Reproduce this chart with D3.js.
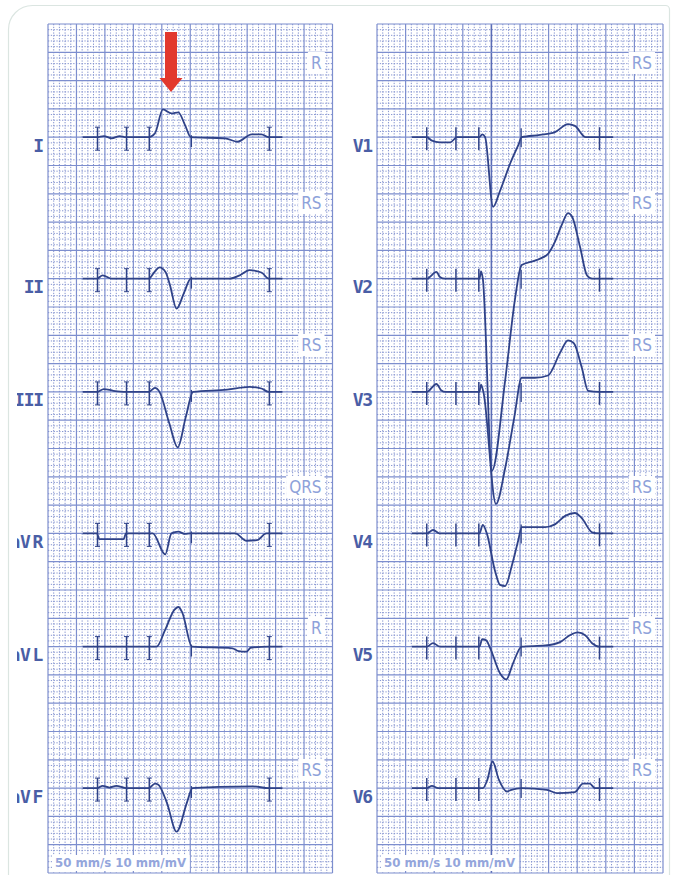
<!DOCTYPE html>
<html>
<head>
<meta charset="utf-8">
<script src="https://cdn.jsdelivr.net/npm/d3@7/dist/d3.min.js"></script>
<style>
html, body { margin: 0; padding: 0; background: #fff; }
svg { display: block; }
</style>
</head>
<body>
<div id="chart"></div>
<script>
// Lead names and the axis notes printed in each strip
var limbLeads = ["I", "II", "III", "aVR", "aVL", "aVF"]
var chestLeads = ["V1", "V2", "V3", "V4", "V5", "V6"]
var limbNotes = ["R", "RS", "RS", "QRS", "R", "RS"]
var chestNotes = ["RS", "RS", "RS", "RS", "RS", "RS"]
var speedLabel = "50 mm/s 10 mm/mV"

// Marker positions along the strip (mm)
var tickTimes = [8.7, 13.8, 17.8, 38.9]
var markerTime = 25.2

// Traces: [time mm, amplitude mm]
var leadI = [[6.1,0],[8.6,0],[9.8,0.2],[11.2,-0.2],[12.6,0.2],[13.7,0],[17.7,0],[18.8,0.7],[20.2,4.9],[21.7,4.2],[22.9,4.4],[24.1,2.1],[25.1,0],[31.1,-0.2],[33.3,-0.8],[35.8,0.5],[37.5,0.5],[38.8,0],[41.2,0]]
var leadII = [[6.1,0],[8.6,0],[9.6,0.6],[11.2,0],[13.7,0],[17.7,0],[18.8,1.3],[19.6,2.0],[20.7,1.1],[21.4,-1.0],[22.6,-5.3],[23.9,-2.5],[25.1,0],[31.9,0],[33.7,0.6],[35.4,1.5],[37.5,1.1],[38.8,0],[41.2,0]]
var leadIII = [[6.1,0],[8.6,0],[9.8,0.5],[11.5,0.2],[13.7,0],[17.7,0],[18.8,0.7],[19.6,0],[21.3,-5.5],[22.8,-9.8],[24.2,-4.5],[25.5,0],[31.5,0.4],[35.4,0.9],[37.5,0.6],[38.8,0],[41.2,0]]
var leadAVR = [[6.1,0],[8.6,0],[9.0,-1.0],[13.3,-1.0],[13.7,0],[17.7,0],[18.4,0],[20.6,-3.7],[21.7,0],[22.9,0.3],[24.1,-0.1],[25.0,0],[32.9,0],[34.9,-1.3],[36.7,-1.2],[38.4,0],[41.2,0]]
var leadAVL = [[6.1,0],[8.6,0],[13.7,0],[17.7,0],[19.1,0],[20.6,3.0],[22.2,6.5],[22.9,7.0],[23.6,6.0],[25.3,0],[32.4,-0.3],[33.5,-0.8],[34.9,-0.9],[35.6,-0.2],[38.8,0],[41.2,0]]
var leadAVF = [[6.1,0],[8.6,0],[9.6,0.4],[10.8,0.1],[12.0,0.4],[13.7,0],[17.7,0],[18.8,0.8],[19.4,0.6],[20.9,-2.6],[22.6,-7.7],[24.4,-2.6],[25.4,0],[30.0,0.2],[36.0,0.3],[38.8,0],[41.2,0]]

var leadV1 = [[6.1,0],[8.7,0],[9.6,-0.6],[11.0,-0.9],[12.8,-0.9],[14.0,0],[17.9,0],[18.4,0.5],[18.9,0],[20.3,-12.3],[21.5,-9.5],[23.3,-4.6],[24.7,-1.4],[25.3,0],[28.5,0.4],[31.1,0.9],[33.4,2.3],[34.6,2.0],[36.5,0],[38.9,0],[41.3,0]]
var leadV2 = [[6.1,0],[8.7,0],[10.4,1.2],[11.0,0.3],[11.9,0],[14.0,0],[17.9,0],[18.2,1.3],[18.5,0],[20.1,-33.9],[22.4,-18],[24.1,-3.8],[25.1,2.0],[25.3,2.4],[27.6,3.2],[29.9,4.4],[31.1,6.5],[32.3,9.5],[33.4,11.6],[34.1,11.0],[35.5,5.6],[36.7,0.6],[37.6,0],[38.9,0],[41.3,0]]
var leadV3 = [[6.1,0],[8.7,0],[10.4,1.4],[11.2,0.3],[12.0,0],[14.0,0],[17.9,0],[18.2,1.3],[18.6,0],[20.8,-19.8],[22.4,-13.5],[24.0,-4.5],[25.3,2.5],[27.6,2.5],[29.9,2.9],[32.0,6.9],[33.4,9.1],[34.4,8.6],[35.8,4.3],[36.9,0.2],[38.9,0],[41.3,0]]
var leadV4 = [[6.1,0],[8.7,0],[9.8,0.6],[11.0,0],[14.0,0],[17.9,0],[18.5,1.5],[19.2,0],[20.6,-6.5],[21.5,-9.1],[22.4,-9.3],[23.6,-5.6],[24.7,-1.2],[25.3,1.1],[29.4,1.1],[31.1,1.6],[32.9,3.1],[34.6,3.6],[35.8,2.7],[37.6,0.2],[38.9,0],[41.3,0]]
var leadV5 = [[6.1,0],[8.7,0],[9.8,0.6],[11.0,0],[14.0,0],[17.9,0],[18.4,1.3],[19.1,1.1],[19.8,-0.3],[21.5,-4.7],[22.6,-5.8],[23.8,-2.9],[25.3,0],[29.4,0.2],[32.0,0.8],[33.7,2.0],[35.1,2.5],[36.4,2.0],[37.6,0.6],[38.9,0],[41.3,0]]
var leadV6 = [[6.1,0],[8.7,0],[9.6,0.4],[10.7,0],[14.0,0],[17.9,0],[18.5,0],[19.3,1.5],[20.2,4.7],[21.3,1.5],[22.7,-0.6],[23.5,-0.3],[25.3,0],[29.7,-0.3],[31.5,-0.9],[34.6,-0.7],[36.0,0.8],[37.2,0.8],[38.1,0],[38.9,0],[41.3,0]]

var limbTraces = [leadI, leadII, leadIII, leadAVR, leadAVL, leadAVF]
var chestTraces = [leadV1, leadV2, leadV3, leadV4, leadV5, leadV6]

// layout
var W = 673, H = 875
var gridTop = 24, rowH = 28.3, nRows = 30
var gridBottom = gridTop + nRows * rowH
var baseRows = [4, 9, 13, 18, 22, 27]
var noteY = [63, 203, 345, 487, 628, 770]
var traceColor = '#2f4288'

var svg = d3.select('#chart').append('svg')
    .attr('width', W).attr('height', H)

// card outline
svg.append('path')
    .attr('d', 'M8.5,' + H + ' V29.5 A24,24 0 0 1 32.5,5.5 H665.5 A4,4 0 0 1 669.5,9.5 V' + H)
    .attr('fill', '#fff')
    .attr('stroke', '#dbe5e1')
    .attr('stroke-width', 1.2)

svg.append('clipPath').attr('id', 'crop')
    .append('rect').attr('x', 17).attr('y', 0).attr('width', W).attr('height', H)

var root = svg.append('g').attr('clip-path', 'url(#crop)')

// vertical position in mm from top of grid
var yMM = d3.scaleLinear().domain([0, nRows * 5]).range([gridTop, gridBottom])

function addBoxedText(g, t) {
    var b = t.node().getBBox()
    g.insert('rect', function () { return t.node() })
        .attr('x', b.x - 3).attr('y', b.y - 1)
        .attr('width', b.width + 6).attr('height', b.height + 2)
        .attr('fill', '#fff')
}

function drawPanel(x0, x1, leads, notes, traces, serifs, emphCol) {
    var g = root.append('g')
    var x = d3.scaleLinear().domain([0, 50]).range([x0, x1])

    var minorX = d3.range(1, 50).filter(d => d % 5 !== 0)
    var minorY = d3.range(1, nRows * 5).filter(d => d % 5 !== 0)
    var majorX = d3.range(0, 51, 5)
    var majorY = d3.range(0, nRows * 5 + 1, 5)

    g.selectAll('.mnx').data(minorX).enter().append('line')
        .attr('x1', d => x(d)).attr('x2', d => x(d))
        .attr('y1', gridTop).attr('y2', gridBottom)
        .attr('stroke', '#8594d0').attr('stroke-width', 1)
        .attr('stroke-dasharray', '1.3,1.5')
    g.selectAll('.mny').data(minorY).enter().append('line')
        .attr('y1', d => yMM(d)).attr('y2', d => yMM(d))
        .attr('x1', x0).attr('x2', x1)
        .attr('stroke', '#8594d0').attr('stroke-width', 1)
        .attr('stroke-dasharray', '1.3,1.5')

    g.selectAll('.mjx').data(majorX).enter().append('line')
        .attr('x1', d => x(d)).attr('x2', d => x(d))
        .attr('y1', gridTop).attr('y2', gridBottom)
        .attr('stroke', d => d === emphCol * 5 ? '#5a6cb6' : '#7d8ece')
        .attr('stroke-width', d => d === emphCol * 5 ? 1.6 : 1.2)
    g.selectAll('.mjy').data(majorY).enter().append('line')
        .attr('y1', d => yMM(d)).attr('y2', d => yMM(d))
        .attr('x1', x0).attr('x2', x1)
        .attr('stroke', '#7d8ece').attr('stroke-width', 1.2)

    // axis notes with white box behind
    notes.forEach((n, i) => {
        var t = g.append('text')
            .attr('x', x1 - 11).attr('y', noteY[i])
            .attr('text-anchor', 'end')
            .attr('dominant-baseline', 'central')
            .style('font-family', 'DejaVu Sans Condensed, DejaVu Sans, sans-serif')
            .style('font-size', '17px')
            .style('fill', '#8ea2da')
            .text(n)
        addBoxedText(g, t)
    })

    // speed / gain note at the bottom
    var s = g.append('text')
        .attr('x', x0 + 7).attr('y', gridBottom - 10)
        .attr('dominant-baseline', 'central')
        .attr('textLength', 131).attr('lengthAdjust', 'spacingAndGlyphs')
        .style('font-family', 'DejaVu Sans Condensed, DejaVu Sans, sans-serif')
        .style('font-size', '12px').style('font-weight', 'bold')
        .style('fill', '#94a6dc')
        .text(speedLabel)
    addBoxedText(g, s)

    var line = d3.line().curve(d3.curveMonotoneX)

    traces.forEach((tr, i) => {
        var base = yMM(baseRows[i] * 5)
        var y = d3.scaleLinear().domain([0, 1]).range([base, base - rowH / 5])
        line.x(d => x(d[0])).y(d => y(d[1]))

        var lg = g.append('g')
        lg.append('path')
            .attr('d', line(tr))
            .attr('fill', 'none')
            .attr('stroke', traceColor)
            .attr('stroke-width', 1.8)
            .attr('stroke-linejoin', 'round')

        lg.selectAll('.tk').data(tickTimes).enter().append('line')
            .attr('x1', d => x(d)).attr('x2', d => x(d))
            .attr('y1', base - 10).attr('y2', base + 13)
            .attr('stroke', traceColor).attr('stroke-width', 1.5)
        if (serifs) {
            lg.selectAll('.sf').data(tickTimes.flatMap(d => [[d, -10], [d, 13]])).enter().append('line')
                .attr('x1', d => x(d[0]) - 2.5).attr('x2', d => x(d[0]) + 2.5)
                .attr('y1', d => base + d[1]).attr('y2', d => base + d[1])
                .attr('stroke', traceColor).attr('stroke-width', 1)
        }
        lg.append('line')
            .attr('x1', x(markerTime)).attr('x2', x(markerTime))
            .attr('y1', serifs ? base - 2 : base - 9).attr('y2', base + 10)
            .attr('stroke', traceColor).attr('stroke-width', 1.3)

        // lead label; the leading "a" of aVR/aVL/aVF falls off the cropped edge
        var lab = g.append('text')
            .attr('y', base + 8)
            .attr('dominant-baseline', 'central')
            .style('font-family', 'DejaVu Sans Mono, monospace')
            .style('font-size', '18px').style('font-weight', 'bold')
            .style('fill', '#4a5ea6')
        if (leads[i][0] === 'a') {
            lab.attr('x', (x0 - 38.5) + ' ' + (x0 - 28) + ' ' + (x0 - 15.5))
                .text(leads[i])
        } else {
            lab.attr('x', x0 - 5).attr('text-anchor', 'end')
                .style('letter-spacing', '-1.2px')
                .text(leads[i])
        }
    })
}

drawPanel(48, 332.5, limbLeads, limbNotes, limbTraces, true, -1)
drawPanel(377, 663, chestLeads, chestNotes, chestTraces, false, 4)

// red arrow over lead I
var arrow = root.append('g').attr('fill', '#e2382d')
arrow.append('rect').attr('x', 165).attr('y', 32).attr('width', 12).attr('height', 48)
arrow.append('path').attr('d', 'M159.5,78 L182.5,78 L171,92 Z')
</script>
</body>
</html>
